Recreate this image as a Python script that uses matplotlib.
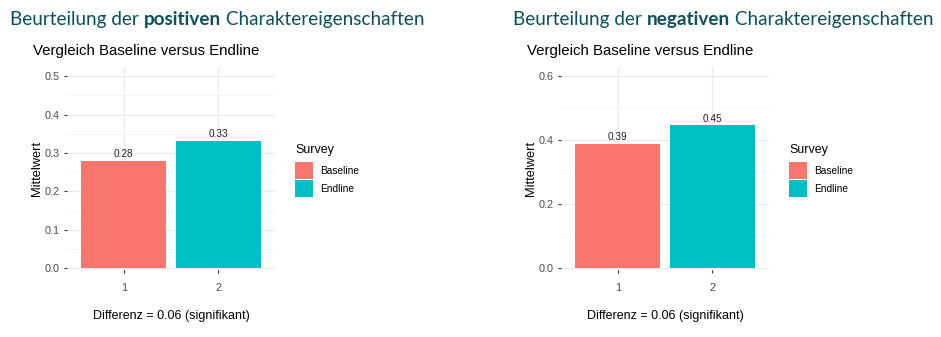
import matplotlib
matplotlib.use("Agg")
import matplotlib.pyplot as plt
from matplotlib.ticker import MultipleLocator

# Daten
survey = ["Baseline", "Endline"]
x_pos = [1, 2]
pos_werte = [0.280, 0.331]
neg_werte = [0.387, 0.445]
pos_labels = ["0.28", "0.33"]
neg_labels = ["0.39", "0.45"]
farben = ["#F8766D", "#00BFC4"]
diff_text = "Differenz = 0.06 (signifikant)"

W, H = 941, 337
fig = plt.figure(figsize=(W / 100, H / 100), dpi=100)
renderer = fig.canvas.get_renderer()

titel_farbe = "#0D4F5C"
sans = "Liberation Sans"


def ax_px(x0, y0, x1, y1):
    # Pixelkoordinaten (oben links) -> figure-Koordinaten
    return fig.add_axes([x0 / W, 1 - y1 / H, (x1 - x0) / W, (y1 - y0) / H])


def titel(x, y, wort):
    teile = [("Beurteilung der ", "normal"), (wort, "bold"), (" Charaktereigenschaften", "normal")]
    for txt, gew in teile:
        t = fig.text(x / W, 1 - y / H, txt, fontsize=13.6, family="Lato",
                     weight=gew, color=titel_farbe, va="center", ha="left")
        bb = t.get_window_extent(renderer)
        x += bb.width


def panel(x0, x1, werte, labels, ymax, major, minor, wort, tx):
    y0, y1 = 66.5, 270
    ax = ax_px(x0, y0, x1, y1)
    ax.bar(x_pos, werte, width=0.9, color=farben, zorder=2)
    for xi, v, lab in zip(x_pos, werte, labels):
        ax.text(xi, v + ymax * 0.008, lab, ha="center", va="bottom",
                fontsize=7.2, family=sans, color="#222222")
    ax.set_xlim(0.4, 2.6)
    ax.set_ylim(-0.004 * ymax / 0.5, ymax)
    ax.yaxis.set_major_locator(MultipleLocator(major))
    ax.yaxis.set_minor_locator(MultipleLocator(minor))
    ax.set_xticks(x_pos)
    ax.set_xticklabels(["1", "2"])
    ax.grid(True, which="major", color="#EBEBEB", lw=0.9, zorder=0)
    ax.grid(True, which="minor", axis="y", color="#F3F3F3", lw=0.6, zorder=0)
    for s in ax.spines.values():
        s.set_visible(False)
    ax.tick_params(axis="both", which="major", length=2.5, width=0.8, color="#333333",
                   labelsize=7.8, labelcolor="#4D4D4D")
    ax.tick_params(axis="x", pad=7)
    ax.tick_params(axis="y", pad=3)
    ax.tick_params(axis="y", which="minor", length=0)
    for lab in ax.get_xticklabels() + ax.get_yticklabels():
        lab.set_family(sans)
    ax.yaxis.set_major_formatter(plt.FuncFormatter(lambda v, p: f"{v:.1f}"))
    ax.set_ylabel("Mittelwert", fontsize=9.3, family=sans, labelpad=1)
    ax.set_xlabel(diff_text, fontsize=9, family=sans, labelpad=12)
    ax.set_title("Vergleich Baseline versus Endline", fontsize=10.8, family=sans,
                 loc="left", x=-0.165, pad=8)

    # Legende
    lx = x1 + 20
    fig.text(lx / W, 1 - 150 / H, "Survey", fontsize=9, family=sans, va="center")
    for i, (name, c) in enumerate(zip(survey, farben)):
        top = 162 + i * 18
        lax = ax_px(lx, top, lx + 18, top + 17)
        lax.axis("off")
        lax.add_patch(plt.Rectangle((0, 0), 1, 1, color=c, transform=lax.transAxes))
        fig.text((lx + 25) / W, 1 - (top + 8.5) / H, name, fontsize=7.3, family=sans, va="center")

    titel(tx, 20, wort)
    return ax


panel(67, 275, pos_werte, pos_labels, 0.525, 0.1, 0.05, "positiven", 10)
panel(561, 769, neg_werte, neg_labels, 0.628, 0.2, 0.1, "negativen", 513)

fig.savefig("out.png", dpi=100, facecolor="white")
